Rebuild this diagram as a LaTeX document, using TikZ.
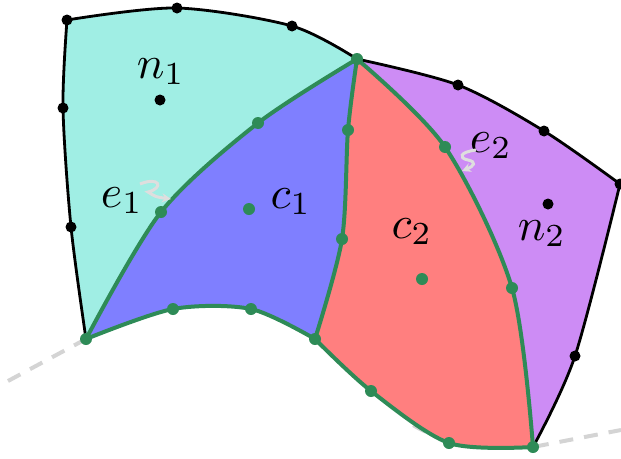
\documentclass[tikz,border=0pt]{standalone}
\usetikzlibrary{arrows.meta}
\definecolor{cteal}{RGB}{160,238,228}
\definecolor{cblue}{RGB}{127,127,255}
\definecolor{cred}{RGB}{255,127,127}
\definecolor{cpurple}{RGB}{205,140,245}
\definecolor{cgreen}{RGB}{46,139,87}
\definecolor{cgray}{RGB}{212,212,212}
\definecolor{csquig}{RGB}{222,222,222}
\tikzset{
  bdot/.style={circle,fill=black,inner sep=0pt,minimum size=11pt},
  gdot/.style={circle,fill=cgreen,inner sep=0pt,minimum size=12pt},
  blackedge/.style={line width=2.8pt,black},
  greenedge/.style={line width=4pt,cgreen,line join=round},
  guide/.style={line width=4pt,cgray,dash pattern=on 14pt off 11pt},
  squig/.style={line width=3pt,csquig,-{Stealth[length=9pt,width=9pt]}},
  lbl/.style={scale=4.6,inner sep=0pt,anchor=base}
}
\begin{document}
\begin{tikzpicture}[x=1pt,y=-1pt]
\useasboundingbox (0,0) rectangle (621,458);
% points
\coordinate (A) at (67,20);
\coordinate (t1) at (177,8);
\coordinate (t2) at (292,26);
\coordinate (P) at (357,59);
\coordinate (l1) at (63,108);
\coordinate (l2) at (71,227);
\coordinate (B) at (86,339);
\coordinate (e1) at (161,212);
\coordinate (u1) at (258,123);
\coordinate (b1) at (173,309);
\coordinate (b2) at (251,309);
\coordinate (Q) at (315,339);
\coordinate (m1) at (348,130);
\coordinate (m2) at (342,239);
\coordinate (r1) at (371,391);
\coordinate (r2) at (449,443);
\coordinate (R) at (533,447);
\coordinate (e2) at (445,147);
\coordinate (s2) at (512,288);
\coordinate (p1) at (458,85);
\coordinate (p2) at (544,131);
\coordinate (C) at (620,184);
\coordinate (p3) at (575,356);
\coordinate (G0) at (8,381);
\coordinate (G1) at (621,430);
% hidden guide curve
\draw[guide] (G0) -- (B) .. controls (200,250) and (330,300) .. (410,423)
   .. controls (440,444) and (490,446) .. (R) -- (G1);
% fills
\fill[cteal] plot[smooth] coordinates {(A) (t1) (t2) (P)}
  -- plot[smooth] coordinates {(P) (u1) (e1) (B)}
  -- plot[smooth] coordinates {(B) (l2) (l1) (A)} -- cycle;
\fill[cblue] plot[smooth] coordinates {(B) (e1) (u1) (P)}
  -- plot[smooth] coordinates {(P) (m1) (m2) (Q)}
  -- plot[smooth] coordinates {(Q) (b2) (b1) (B)} -- cycle;
\fill[cred] plot[smooth] coordinates {(P) (m1) (m2) (Q)}
  -- plot[smooth] coordinates {(Q) (r1) (r2) (R)}
  -- plot[smooth] coordinates {(R) (s2) (e2) (P)} -- cycle;
\fill[cpurple] plot[smooth] coordinates {(P) (e2) (s2) (R)}
  -- plot[smooth] coordinates {(R) (p3) (C)}
  -- plot[smooth] coordinates {(C) (p2) (p1) (P)} -- cycle;
% black boundary
\draw[blackedge] plot[smooth] coordinates {(A) (t1) (t2) (P)};
\draw[blackedge] plot[smooth] coordinates {(A) (l1) (l2) (B)};
\draw[blackedge] plot[smooth] coordinates {(P) (p1) (p2) (C)};
\draw[blackedge] plot[smooth] coordinates {(C) (p3) (R)};
% green edges
\draw[greenedge] plot[smooth] coordinates {(B) (e1) (u1) (P)};
\draw[greenedge] plot[smooth] coordinates {(B) (b1) (b2) (Q)};
\draw[greenedge] plot[smooth] coordinates {(P) (m1) (m2) (Q)};
\draw[greenedge] plot[smooth] coordinates {(Q) (r1) (r2) (R)};
\draw[greenedge] plot[smooth] coordinates {(P) (e2) (s2) (R)};
% black dots
\node[bdot] (dA) at (A) {};
\node[bdot] (dt1) at (t1) {};
\node[bdot] (dt2) at (t2) {};
\node[bdot] (dl1) at (l1) {};
\node[bdot] (dl2) at (l2) {};
\node[bdot] (dp1) at (p1) {};
\node[bdot] (dp2) at (p2) {};
\node[bdot] (dC) at (C) {};
\node[bdot] (dp3) at (p3) {};
\node[bdot] (n1) at (160,100) {};
\node[bdot] (n2) at (548,204) {};
% green dots
\foreach \p in {B,e1,u1,P,b1,b2,Q,m1,m2,r1,r2,R,e2,s2}
  \node[gdot] (d\p) at (\p) {};
\node[gdot] (c1) at (249,209) {};
\node[gdot] (c2) at (422,279) {};
% labels
\node[lbl] (ln1) at (161,78) {$n_1$};
\node[lbl] (ln2) at (542,240) {$n_2$};
\node[lbl] (lc1) at (291,208) {$c_1$};
\node[lbl] (lc2) at (412,238) {$c_2$};
\node[lbl] (le1) at (122,207) {$e_1$};
\node[lbl] (le2) at (491,152) {$e_2$};
% squiggle arrows
\coordinate (q1s) at (140,184);
\coordinate (q1e) at (171,199);
\draw[squig] (q1s) .. controls (160,176) and (164,188) .. (148,192)
  .. controls (156,197) .. (q1e);
\coordinate (q2s) at (476,150);
\coordinate (q2e) at (462,171);
\draw[squig] (q2s) .. controls (460,152) and (458,158) .. (468,160)
  .. controls (477,162) and (474,166) .. (q2e);
\end{tikzpicture}
\end{document}
